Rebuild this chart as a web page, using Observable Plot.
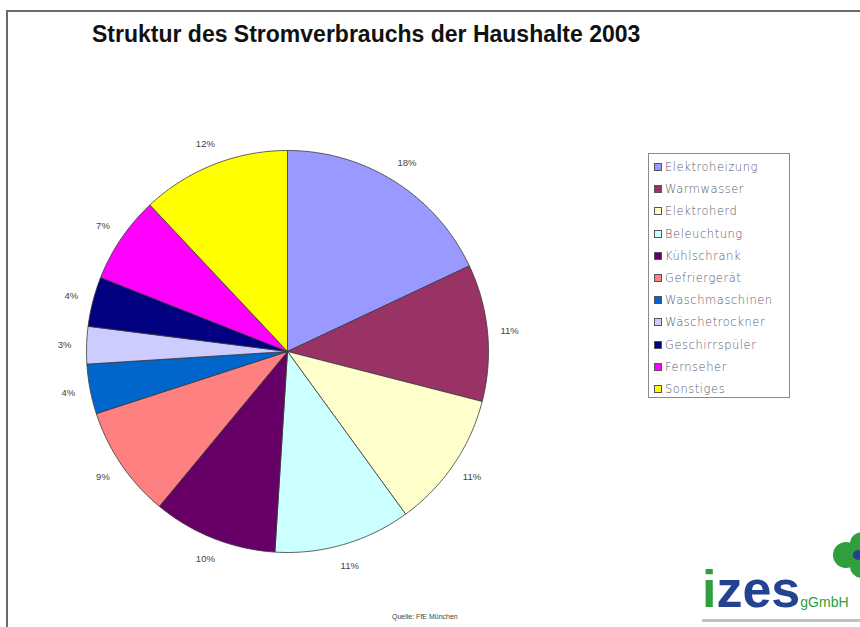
<!DOCTYPE html>
<html>
<head>
<meta charset="utf-8">
<script src="https://cdn.jsdelivr.net/npm/d3@7"></script>
<script src="https://cdn.jsdelivr.net/npm/@observablehq/plot@0.6"></script>
<style>
  html, body { margin: 0; padding: 0; background: #fff; }
  #root { position: relative; width: 860px; height: 627px; background: #fff; overflow: hidden; font-family: "Liberation Sans", Arial, sans-serif; }
  #frameTop { position: absolute; left: 6px; top: 10px; width: 854px; height: 2px; background: #6a6a6a; }
  #frameLeft { position: absolute; left: 6px; top: 10px; width: 2px; height: 617px; background: #6a6a6a; }
  #title { position: absolute; left: 92px; top: 21px; font-size: 23px; font-weight: bold; color: #111; white-space: nowrap; letter-spacing: 0px; }
  #chart { position: absolute; left: 0; top: 0; }
  #legend { position: absolute; left: 648px; top: 153px; width: 142px; height: 245px; border: 1px solid #8a8a8a; box-sizing: border-box; padding-top: 2px; }
  .item { height: 22.2px; display: flex; align-items: center; padding-left: 5px; font-size: 11.5px; color: #5a5a6e; white-space: nowrap; letter-spacing: 0.55px; font-family: "DejaVu Sans", sans-serif; font-weight: 300; }
  .sw { width: 6px; height: 6px; border: 1px solid #555; margin-right: 3px; flex: none; }
  #caption { position: absolute; left: 392px; top: 613px; font-size: 7px; color: #444; white-space: nowrap; }
  #logo { position: absolute; left: 702px; top: 559px; white-space: nowrap; }
  #logo .i { color: #2f9e3c; font-weight: bold; font-size: 52px; font-family: "Liberation Sans", Arial, sans-serif; }
  #logo .zes { color: #23428f; font-weight: bold; font-size: 52px; font-family: "Liberation Sans", Arial, sans-serif; }
  #logo .g { color: #2f9e3c; font-size: 14px; }
  #clover { position: absolute; left: 832px; top: 531px; width: 48px; height: 48px; }
  #sub { position: absolute; left: 702px; top: 619px; width: 158px; height: 3px; background: #b8c8b8; }
</style>
</head>
<body>
<div id="root">
  <div id="frameTop"></div>
  <div id="frameLeft"></div>
  <div id="chart"></div>
  <div id="title">Struktur des Stromverbrauchs der Haushalte 2003</div>
  <div id="legend"></div>
  <div id="caption">Quelle: FfE München</div>
  <div id="logo"><span class="i">i</span><span class="zes">zes</span><span class="g">gGmbH</span></div>
  <svg id="clover" viewBox="0 0 48 48">
    <circle cx="14" cy="24" r="13" fill="#2f9e3c"/>
    <circle cx="30" cy="13" r="12" fill="#2f9e3c"/>
    <circle cx="30" cy="35" r="12" fill="#2f9e3c"/>
    <circle cx="26" cy="24" r="5" fill="#23428f"/>
  </svg>
  <div id="sub"></div>
</div>
<script>
// ---- data ----
const categories = ["Elektroheizung","Warmwasser","Elektroherd","Beleuchtung","Kühlschrank","Gefriergerät","Waschmaschinen","Wäschetrockner","Geschirrspüler","Fernseher","Sonstiges"];
const shares = [18, 11, 11, 11, 10, 9, 4, 3, 4, 7, 12];
const colors = ["#9999FF","#993366","#FFFFCC","#CCFFFF","#660066","#FF8080","#0066CC","#CCCCFF","#000080","#FF00FF","#FFFF00"];
const pctLabels = shares.map(s => s + "%");

// ---- layout (pie center at 287,351, radius 201px) ----
const W = 860, H = 627, cx = 287, cy = 351, R = 201;

const rows = categories.map((c, i) => ({category: c, share: shares[i], label: pctLabels[i]}));
const arcs = d3.pie().sort(null).value(d => d.share)(rows);

// polygons in unit-circle coordinates (y up), angle clockwise from 12 o'clock
const pts = [];
for (const a of arcs) {
  const c = a.data.category;
  pts.push({category: c, u: 0, v: 0});
  const n = Math.max(2, Math.ceil((a.endAngle - a.startAngle) / (Math.PI / 180)));
  for (let k = 0; k <= n; k++) {
    const t = a.startAngle + (a.endAngle - a.startAngle) * k / n;
    pts.push({category: c, u: Math.sin(t), v: Math.cos(t)});
  }
  pts.push({category: c, u: 0, v: 0});
}
const labels = arcs.map(a => {
  const m = (a.startAngle + a.endAngle) / 2;
  return {label: a.data.label, u: 1.11 * Math.sin(m), v: 1.11 * Math.cos(m)};
});

const chart = Plot.plot({
  width: W, height: H,
  margin: 0,
  x: {domain: [-cx / R, (W - cx) / R], axis: null},
  y: {domain: [-(H - cy) / R, cy / R], axis: null},
  color: {domain: categories, range: colors},
  marks: [
    Plot.line(pts, {x: "u", y: "v", z: "category", fill: "category", stroke: "#3a3a3a", strokeWidth: 0.8, curve: "linear"}),
    Plot.text(labels, {x: "u", y: "v", text: "label", fontSize: 9.5, fill: "#444", fontFamily: "Liberation Sans Narrow, Liberation Sans, sans-serif"})
  ]
});
document.getElementById("chart").appendChild(chart);

// ---- legend ----
const leg = document.getElementById("legend");
categories.forEach((c, i) => {
  const it = document.createElement("div");
  it.className = "item";
  const sw = document.createElement("span");
  sw.className = "sw";
  sw.style.background = colors[i];
  it.appendChild(sw);
  it.appendChild(document.createTextNode(c));
  leg.appendChild(it);
});
</script>
</body>
</html>
